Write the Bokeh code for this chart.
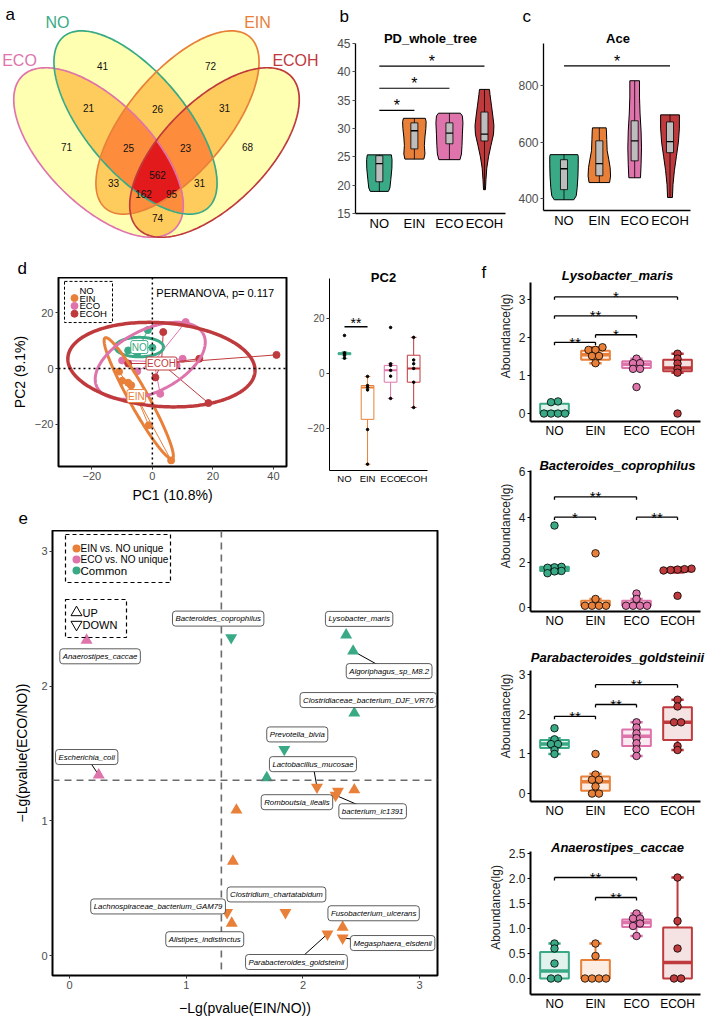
import numpy as np
from bokeh.plotting import figure
from bokeh.models import Range1d, Label, FixedTicker, Span, PrintfTickFormatter
from bokeh.layouts import row, column
from bokeh.embed import file_html
from bokeh.resources import INLINE
from bokeh.core.properties import value

FONT = "Liberation Sans"
GROUPS = ["NO", "EIN", "ECO", "ECOH"]
COL = {"NO": "#3AAA86", "EIN": "#E8803A", "ECO": "#DE74AB", "ECOH": "#BF3A3C"}

# ======================= DATA =======================
# (a) Venn: region membership (ECO, NO, EIN, ECOH) and counts
venn_sets = ["ECO", "NO", "EIN", "ECOH"]
venn_members = ["0100", "0010", "1000", "0001", "1100", "0110", "0011",
                "1110", "0111", "1111", "1010", "1011", "1101", "0101", "1001"]
venn_counts = [41, 72, 71, 68, 21, 26, 31, 25, 23, 562, 33, 162, 95, 31, 74]

# (b) PD_whole_tree violins: value levels, relative density, box stats (lo, q1, med, q3, hi)
pd_dens_y = {
    "NO": [18.9, 19.5, 21.0, 23.0, 24.5, 25.35],
    "EIN": [24.6, 25.5, 27.0, 28.5, 30.0, 31.2, 31.8],
    "ECO": [24.5, 25.5, 27.0, 29.0, 31.0, 32.2, 32.7],
    "ECOH": [19.2, 21.0, 23.0, 25.0, 27.0, 29.0, 30.5, 32.0, 34.0, 36.0, 36.9],
}
pd_dens_w = {
    "NO": [0.67, 0.78, 0.85, 0.93, 0.94, 0.89],
    "EIN": [0.70, 0.78, 0.74, 0.78, 0.85, 0.87, 0.81],
    "ECO": [0.78, 0.89, 0.93, 0.96, 1.00, 0.96, 0.81],
    "ECOH": [0.07, 0.11, 0.17, 0.30, 0.48, 0.67, 0.70, 0.63, 0.52, 0.41, 0.37],
}
pd_box = {"NO": (18.9, 20.6, 23.8, 25.2, 25.35), "EIN": (24.6, 26.4, 29.6, 31.0, 31.8),
          "ECO": (24.5, 27.3, 29.2, 31.0, 32.7), "ECOH": (19.2, 27.8, 29.0, 32.9, 36.9)}
pd_sig = [("NO", "EIN", 33.2, "*"), ("NO", "ECO", 37.1, "*"), ("NO", "ECOH", 41.0, "*")]
pd_lim = (15, 45)

# (c) Ace
ace_dens_y = {
    "NO": [396, 410, 440, 480, 520, 550, 556],
    "EIN": [457, 480, 510, 540, 570, 610, 640, 651],
    "ECO": [474, 520, 580, 640, 700, 760, 818],
    "ECOH": [404, 450, 500, 550, 600, 650, 697],
}
ace_dens_w = {
    "NO": [0.69, 0.86, 0.93, 0.98, 1.0, 1.0, 0.97],
    "EIN": [0.72, 0.79, 0.76, 0.66, 0.55, 0.52, 0.50, 0.48],
    "ECO": [0.41, 0.45, 0.48, 0.45, 0.38, 0.34, 0.34],
    "ECOH": [0.17, 0.21, 0.31, 0.45, 0.59, 0.66, 0.66],
}
ace_box = {"NO": (396, 432, 506, 538, 556), "EIN": (457, 481, 524, 605, 651),
           "ECO": (474, 534, 605, 676, 818), "ECOH": (404, 563, 602, 672, 697)}
ace_sig = [("NO", "ECOH", 871, "*")]
ace_lim = (358, 950)

# (d) PCoA
pc_group = ["NO"] * 6 + ["EIN"] * 6 + ["ECO"] * 6 + ["ECOH"] * 6
pc1 = [-1.5, 0.0, -3.0, -6.0, -8.0, -5.0,
       -11.0, -10.0, -8.0, -7.0, -1.2, 6.2,
       11.0, 10.0, -10.0, 8.0, -5.0, 2.6,
       3.6, 41.0, 15.5, -8.0, 1.0, 18.5]
pc2 = [13.8, 7.5, 7.2, 7.0, 6.5, 5.5,
       -1.1, -4.4, -5.1, -6.0, -20.4, -33.0,
       16.7, 3.5, 2.9, 1.1, -1.0, -9.1,
       13.1, 4.9, 3.5, 1.8, -3.2, -12.4]
pc_cent_x = {"NO": -4.3, "EIN": -5.3, "ECO": 0.5, "ECOH": 3.0}
pc_cent_y = {"NO": 7.7, "EIN": -9.9, "ECO": 2.5, "ECOH": 1.8}
pc_ell = {"NO": (-4.3, 7.7, 8.0, 3.5, 0.0), "EIN": (-4.5, -10.7, 24.4, 3.2, -63.0),
          "ECO": (-0.7, 2.8, 20.0, 11.0, 30.0), "ECOH": (3.0, 1.4, 31.0, 15.0, -5.0)}
permanova_p = 0.117
pc2_box = {"NO": (5.5, 6.8, 7.2, 7.5, 7.8), "EIN": (-33.0, -16.7, -5.1, -4.4, -1.1),
           "ECO": (-9.1, -3.2, 1.1, 2.9, 3.5), "ECOH": (-12.4, -3.2, 1.8, 6.6, 13.1)}
pc2_sig = [("NO", "EIN", 17.0, "**")]
pc2_lim = (-35.3, 34.5)

# (e) -Lg(p) comparison
e_x = [0.146, 1.385, 2.37, 2.43, 2.44, 1.84, 1.69, 0.25, 2.12, 2.30, 2.28, 2.44,
       1.43, 1.40, 1.35, 1.39, 1.85, 2.34, 2.34, 2.21]
e_y = [2.34, 2.36, 2.38, 2.26, 1.80, 1.53, 1.32, 1.34, 1.25, 1.22, 1.19, 1.23,
       1.08, 0.70, 0.32, 0.24, 0.32, 0.21, 0.13, 0.16]
e_cls = ["ECO", "Common", "Common", "Common", "Common", "Common", "Common", "ECO",
         "EIN", "EIN", "EIN", "EIN", "EIN", "EIN", "EIN", "EIN", "EIN", "EIN", "EIN", "EIN"]
e_dir = ["up", "down", "up", "up", "up", "down", "up", "up", "down", "down", "down", "up",
         "up", "up", "down", "up", "down", "up", "down", "down"]
e_name = ["Anaerostipes_caccae", "Bacteroides_coprophilus", "Lysobacter_maris",
          "Algoriphagus_sp_M8.2", "Clostridiaceae_bacterium_DJF_VR76", "Prevotella_bivia", "",
          "Escherichia_coli", "Lactobacillus_mucosae", "Romboutsia_ilealis", "bacterium_ic1391",
          "", "", "", "Lachnospiraceae_bacterium_GAM79", "Alistipes_indistinctus",
          "Clostridium_chartatabidum", "Fusobacterium_ulcerans", "Megasphaera_elsdenii",
          "Parabacteroides_goldsteinii"]
e_cut = 1.301

# (f) abundance plots
f_species = ["Lysobacter_maris", "Bacteroides_coprophilus", "Parabacteroides_goldsteinii",
             "Anaerostipes_caccae"]
f_pts = {
    "Lysobacter_maris": {"NO": [0.32, 0.30, 0.0, 0.0, 0.0, 0.0],
                         "EIN": [1.75, 1.68, 1.68, 1.52, 1.52, 1.33],
                         "ECO": [1.45, 1.33, 1.33, 1.18, 1.18, 0.70],
                         "ECOH": [1.58, 1.45, 1.32, 1.18, 1.08, 0.0]},
    "Bacteroides_coprophilus": {"NO": [3.63, 1.80, 1.78, 1.76, 1.62, 1.60, 1.52],
                                "EIN": [2.40, 0.38, 0.08, 0.08, 0.08, 0.08],
                                "ECO": [0.62, 0.38, 0.08, 0.08, 0.08, 0.08],
                                "ECOH": [1.72, 1.70, 1.68, 1.66, 1.64, 0.52]},
    "Parabacteroides_goldsteinii": {"NO": [1.65, 1.37, 1.25, 1.25, 1.10, 1.00],
                                    "EIN": [1.00, 0.48, 0.35, 0.35, 0.18, 0.0, 0.0],
                                    "ECO": [1.80, 1.67, 1.52, 1.40, 1.27, 1.12, 0.95],
                                    "ECOH": [2.37, 2.20, 1.80, 1.80, 1.20, 1.10]},
    "Anaerostipes_caccae": {"NO": [0.70, 0.60, 0.30, 0.0, 0.0],
                            "EIN": [0.70, 0.45, 0.0, 0.0, 0.0, 0.0],
                            "ECO": [1.30, 1.20, 1.20, 1.10, 1.05, 0.85],
                            "ECOH": [2.02, 1.15, 0.60, 0.0, 0.0]},
}
f_box = {
    "Lysobacter_maris": {"NO": (0.0, 0.0, 0.05, 0.26, 0.32), "EIN": (1.33, 1.42, 1.55, 1.66, 1.75),
                         "ECO": (1.18, 1.20, 1.30, 1.38, 1.45), "ECOH": (1.08, 1.12, 1.20, 1.42, 1.58)},
    "Bacteroides_coprophilus": {"NO": (1.52, 1.62, 1.72, 1.80, 1.85), "EIN": (0.05, 0.08, 0.10, 0.30, 0.38),
                                "ECO": (0.05, 0.08, 0.15, 0.30, 0.38), "ECOH": (1.55, 1.60, 1.66, 1.72, 1.76)},
    "Parabacteroides_goldsteinii": {"NO": (1.0, 1.15, 1.25, 1.35, 1.40), "EIN": (0.0, 0.07, 0.30, 0.43, 0.50),
                                    "ECO": (0.95, 1.20, 1.45, 1.62, 1.80), "ECOH": (1.10, 1.35, 1.80, 2.18, 2.37)},
    "Anaerostipes_caccae": {"NO": (0.0, 0.0, 0.15, 0.53, 0.70), "EIN": (0.0, 0.0, 0.0, 0.37, 0.70),
                            "ECO": (0.85, 1.03, 1.12, 1.18, 1.30), "ECOH": (0.0, 0.0, 0.32, 1.02, 2.02)},
}
f_sig = {
    "Lysobacter_maris": [("NO", "EIN", 1.88, "**"), ("EIN", "ECO", 2.08, "*"),
                         ("NO", "ECO", 2.58, "**"), ("NO", "ECOH", 3.08, "*")],
    "Bacteroides_coprophilus": [("NO", "EIN", 4.0, "*"), ("NO", "ECO", 4.9, "**"),
                                ("ECO", "ECOH", 4.0, "**")],
    "Parabacteroides_goldsteinii": [("NO", "EIN", 1.95, "**"), ("EIN", "ECO", 2.25, "**"),
                                    ("EIN", "ECOH", 2.75, "**")],
    "Anaerostipes_caccae": [("NO", "ECO", 2.02, "**"), ("EIN", "ECO", 1.62, "**")],
}
f_yticks = {"Lysobacter_maris": [0, 1, 2, 3], "Bacteroides_coprophilus": [0, 2, 4, 6],
            "Parabacteroides_goldsteinii": [0, 1, 2, 3],
            "Anaerostipes_caccae": [0.0, 0.5, 1.0, 1.5, 2.0, 2.5]}
f_yrange = {"Lysobacter_maris": (-0.21, 3.47), "Bacteroides_coprophilus": (-0.175, 6.08),
            "Parabacteroides_goldsteinii": (-0.2, 3.12), "Anaerostipes_caccae": (-0.32, 2.54)}

# ======================= LAYOUT / STYLE =======================
venn_geom = {"ECO": (98, 98, 108, 52, -45), "NO": (135, 128, 112, 50, -50),
             "EIN": (177, 128, 112, 50, 50), "ECOH": (214, 98, 108, 52, 45)}
venn_lab_pos = [(102, 65), (210, 65), (66, 146), (247, 146), (88, 107), (157, 108), (224, 107),
                (128, 147), (185, 147), (157, 174), (113, 182), (143, 193), (171, 193),
                (199, 182), (157, 217)]
venn_set_pos = {"NO": (57, 22), "EIN": (257, 22), "ECO": (19, 60), "ECOH": (295, 60)}
YLORRD = {1: (255, 255, 178, 255), 2: (254, 204, 92, 255), 3: (253, 141, 60, 255),
          4: (227, 26, 28, 255)}


def mkfig(w, h, xr, yr, bl, br, bt, bb, axes=True):
    kw = dict(width=w, height=h, x_range=Range1d(*xr), y_range=Range1d(*yr),
              output_backend="svg", toolbar_location=None, title=None,
              min_border_left=bl, min_border_right=br, min_border_top=bt, min_border_bottom=bb)
    if not axes:
        kw.update(x_axis_type=None, y_axis_type=None)
    p = figure(**kw)
    p.frame_align = False
    p.grid.visible = False
    p.outline_line_color = None
    p.background_fill_color = "white"
    p.border_fill_color = "white"
    return p


def header(w, h, x0, y0, items):
    """Axis-less strip whose frame is its whole canvas; data coords = page px."""
    p = mkfig(w, h, (x0, x0 + w), (y0 + h, y0), 0, 0, 0, 0, axes=False)
    for (x, y, txt, size, style, align) in items:
        p.text(x=[x], y=[y], text=[txt], text_font=value(FONT), text_font_size=size,
               text_font_style=style, text_align=align, text_baseline="alphabetic",
               text_color="black")
    return p


def axstyle(p, xsize, ysize, xcolor="black", ycolor="#4D4D4D", lw=1.3, tick="black"):
    for ax in p.axis:
        ax.axis_line_color = "black"
        ax.axis_line_width = lw
        ax.major_tick_line_color = tick
        ax.major_tick_in = 0
        ax.major_tick_out = 3
        ax.minor_tick_line_color = None
        ax.major_label_text_font = FONT
        ax.axis_label_text_font = FONT
        ax.axis_label_text_font_style = "normal"
        ax.axis_label_text_color = "black"
        ax.major_label_standoff = 2
    p.xaxis.major_label_text_font_size = xsize
    p.yaxis.major_label_text_font_size = ysize
    p.xaxis.major_label_text_color = xcolor
    p.yaxis.major_label_text_color = ycolor


def cat_ticks(p):
    p.xaxis.ticker = FixedTicker(ticks=[1, 2, 3, 4])
    p.xaxis.major_label_overrides = {i + 1: g for i, g in enumerate(GROUPS)}
    p.xaxis.major_tick_line_color = None
    p.xaxis.major_tick_out = 0


def sig(p, x1, x2, y, txt, ppy, gap_px, tick_px=0, fs="16px", lw=1.2):
    p.segment(x0=[x1], y0=[y], x1=[x2], y1=[y], line_color="black", line_width=lw)
    if tick_px:
        d = tick_px / ppy
        p.segment(x0=[x1, x2], y0=[y, y], x1=[x1, x2], y1=[y - d, y - d],
                  line_color="black", line_width=lw)
    p.text(x=[(x1 + x2) / 2], y=[y + gap_px / ppy], text=[txt], text_align="center",
           text_baseline="alphabetic", text_font=value(FONT), text_font_size=fs, text_color="black")


def ellipse_pts(cx, cy, a, b, th):
    t = np.linspace(0, 2 * np.pi, 241)
    r = np.deg2rad(th)
    ex = cx + a * np.cos(t) * np.cos(r) - b * np.sin(t) * np.sin(r)
    ey = cy + a * np.cos(t) * np.sin(r) + b * np.sin(t) * np.cos(r)
    return ex, ey


def panel_fig(w, canvas_top, canvas_h, frame_left, frame_right, frame_top, frame_bottom,
              page_left, xr, lim, ext_right=None):
    """Figure whose frame starts at the canvas top so that an in-frame title fits above
    the axis limits; axes are bounded to `xr` / `lim`."""
    ppy = (frame_bottom - frame_top) / (lim[1] - lim[0])
    ppx = (frame_right - frame_left) / (xr[1] - xr[0])
    top_val = lim[1] + (frame_top - canvas_top) / ppy
    fr = frame_right if ext_right is None else ext_right
    x_end = xr[0] + (fr - frame_left) / ppx
    bl = frame_left - page_left
    br = page_left + w - fr
    bb = canvas_top + canvas_h - frame_bottom
    p = mkfig(w, canvas_h, (xr[0], x_end), (lim[0], top_val), bl, br, 0, bb)
    to_x = lambda px: xr[0] + (px - frame_left) / ppx
    to_y = lambda py: lim[1] + (frame_top - py) / ppy
    return p, ppx, ppy, to_x, to_y


def in_title(p, x, y, txt, size="13px", style="bold"):
    p.text(x=[x], y=[y], text=[txt], text_align="center", text_baseline="alphabetic",
           text_font=value(FONT), text_font_size=size, text_font_style=style, text_color="black")


GX = {g: i + 1 for i, g in enumerate(GROUPS)}

# ----------------- (a) Venn -----------------
VW, VH = 330, 250
pa = mkfig(VW, VH, (0, VW), (0, VH), 0, 0, 0, 0, axes=False)
nx, ny = 660, 500
gx = (np.arange(nx) + 0.5) * VW / nx
gy = (np.arange(ny) + 0.5) * VH / ny
MX, MY = np.meshgrid(gx, gy)
depth = np.zeros(MX.shape, dtype=int)
for s in venn_sets:
    cx, cy, a, b, th = venn_geom[s]
    r = np.deg2rad(th)
    dx, dy = MX - cx, MY - cy
    u = dx * np.cos(r) + dy * np.sin(r)
    v = -dx * np.sin(r) + dy * np.cos(r)
    depth += ((u / a) ** 2 + (v / b) ** 2 <= 1.0).astype(int)
img = np.zeros((ny, nx), dtype=np.uint32)
view = img.view(dtype=np.uint8).reshape((ny, nx, 4))
for k, c in YLORRD.items():
    view[depth == k] = c
pa.image_rgba(image=[img], x=0, y=0, dw=VW, dh=VH)
for s in venn_sets:
    ex, ey = ellipse_pts(*venn_geom[s])
    pa.line(ex, ey, line_color=COL[s], line_width=1.7)
pa.text(x=[q[0] for q in venn_lab_pos], y=[VH - q[1] for q in venn_lab_pos],
        text=[str(c) for c in venn_counts], text_align="center", text_baseline="middle",
        text_font=value(FONT), text_font_size="10px", text_color="#111111")
for s in venn_sets:
    sx, sy = venn_set_pos[s]
    pa.text(x=[sx], y=[VH - sy], text=[s], text_align="center", text_baseline="middle",
            text_font=value(FONT), text_font_size="16px", text_color=COL[s])
pa.text(x=[5], y=[VH - 14], text=["a"], text_baseline="alphabetic", text_font=value(FONT),
        text_font_size="17px", text_color="black")


# ----------------- (b), (c) violins -----------------
def violin_panel(p, dens_y, dens_w, box, maxw, bw):
    for g in GROUPS:
        xc = GX[g]
        ys = list(dens_y[g])
        hw = [w * maxw / 2 for w in dens_w[g]]
        p.patch([xc - h for h in hw] + [xc + h for h in hw[::-1]], ys + ys[::-1],
                fill_color=COL[g], line_color="black", line_width=1)
        lo, q1, med, q3, hi = box[g]
        p.segment(x0=[xc], y0=[lo], x1=[xc], y1=[hi], line_color="black", line_width=0.8)
        p.quad(left=[xc - bw / 2], right=[xc + bw / 2], bottom=[q1], top=[q3],
               fill_color="#BDBDBD", line_color="black", line_width=0.8)
        p.segment(x0=[xc - bw / 2], y0=[med], x1=[xc + bw / 2], y1=[med],
                  line_color="black", line_width=1.3)


HB = 30
hb = header(185, HB, 330, 0, [(339, 16, "b", "17px", "normal", "left")])
pb, bppx, bppy, bx, by = panel_fig(185, HB, 250 - HB, 355, 505, 43, 213, 330, (0.32, 4.6), pd_lim)
axstyle(pb, "13px", "12px", tick="#4D4D4D")
cat_ticks(pb)
pb.yaxis.ticker = FixedTicker(ticks=[15, 20, 25, 30, 35, 40, 45])
pb.yaxis.bounds = pd_lim
violin_panel(pb, pd_dens_y, pd_dens_w, pd_box, 27 / 35, 0.2)
for g1, g2, y, s in pd_sig:
    sig(pb, GX[g1], GX[g2], y, s, bppy, 5)
in_title(pb, bx(430), by(38), "PD_whole_tree")

hc = header(199, HB, 515, 0, [(522, 16, "c", "17px", "normal", "left")])
pc, cppx, cppy, cxf, cyf = panel_fig(199, HB, 250 - HB, 540, 690, 43, 210, 515, (0.42, 4.58), ace_lim)
axstyle(pc, "13px", "12px", tick="#4D4D4D")
cat_ticks(pc)
pc.yaxis.ticker = FixedTicker(ticks=[400, 600, 800])
pc.yaxis.bounds = ace_lim
violin_panel(pc, ace_dens_y, ace_dens_w, ace_box, 29 / 36, 0.2)
for g1, g2, y, s in ace_sig:
    sig(pc, GX[g1], GX[g2], y, s, cppy, 4.5)
in_title(pc, cxf(616), cyf(38), "Ace")

# ----------------- (d) PCoA -----------------
hd = header(295, 27, 0, 250, [(17, 268, "d", "17px", "normal", "left")])
DXR, DYR = (-31, 44.3), (-35.2, 32.7)
DFW, DFH = 228, 193
pdd = mkfig(295, 228, DXR, DYR, 58, 9, 0, 35)
axstyle(pdd, "11px", "11px", xcolor="#4D4D4D", tick="#333333")
for ax in pdd.axis:
    ax.axis_line_color = None
pdd.outline_line_color = "black"
pdd.outline_line_width = 2
pdd.xaxis.ticker = FixedTicker(ticks=[-20, 0, 20, 40])
pdd.yaxis.ticker = FixedTicker(ticks=[-20, 0, 20])
pdd.xaxis.major_label_overrides = {-20: "\u221220"}
pdd.yaxis.major_label_overrides = {-20: "\u221220"}
pdd.xaxis.axis_label = "PC1 (10.8%)"
pdd.yaxis.axis_label = "PC2 (9.1%)"
pdd.xaxis.axis_label_text_font_size = "14px"
pdd.yaxis.axis_label_text_font_size = "14px"
pdd.xaxis.axis_label_standoff = 4
pdd.yaxis.axis_label_standoff = 4
pdd.add_layout(Span(location=0, dimension="height", line_dash="2 3", line_color="black", line_width=1.5))
pdd.add_layout(Span(location=0, dimension="width", line_dash="2 3", line_color="black", line_width=1.5))
for g in GROUPS:
    xs = [pc1[i] for i in range(len(pc1)) if pc_group[i] == g]
    ys = [pc2[i] for i in range(len(pc2)) if pc_group[i] == g]
    cx, cy = pc_cent_x[g], pc_cent_y[g]
    pdd.segment(x0=[cx] * len(xs), y0=[cy] * len(xs), x1=xs, y1=ys, line_color=COL[g], line_width=1)
    pdd.scatter(xs, ys, size=7, fill_color=COL[g], line_color=COL[g])
for g in ["NO", "EIN", "ECO", "ECOH"]:
    ex, ey = ellipse_pts(*pc_ell[g])
    pdd.line(ex, ey, line_color=COL[g], line_width=3.5 if g == "ECOH" else 3)
for g in ["NO", "ECOH", "EIN"]:
    pdd.add_layout(Label(x=pc_cent_x[g], y=pc_cent_y[g], text=g, text_font=FONT,
                         text_font_size="10px", text_color=COL[g], text_align="center",
                         text_baseline="middle", background_fill_color="white",
                         border_line_color=COL[g], border_line_width=1, padding=1, border_radius=2))
pdd.add_layout(Label(x=1.3, y=27.1, text="PERMANOVA, p= %s" % permanova_p, text_font=FONT,
                     text_font_size="11px", text_baseline="middle", text_color="black"))
d_ppx = DFW / (DXR[1] - DXR[0])
d_ppy = DFH / (DYR[1] - DYR[0])
dfx = lambda rx: DXR[0] + rx / d_ppx
dfy = lambda ry: DYR[1] - ry / d_ppy
pdd.quad(left=[dfx(6)], right=[dfx(54)], top=[dfy(4)], bottom=[dfy(46)], fill_color=None,
         line_color="black", line_dash="3 2", line_width=1)
for k, g in enumerate(GROUPS):
    ry = 13 + 8 * k
    if g != "NO":
        pdd.scatter([dfx(16)], [dfy(ry)], size=7, fill_color=COL[g], line_color=COL[g])
    pdd.text(x=[dfx(21)], y=[dfy(ry)], text=[g], text_baseline="middle", text_font=value(FONT),
             text_font_size="9.5px", text_color="black")

# ----------------- PC2 boxplot -----------------
pq, qppx, qppy, qx, qy = panel_fig(185, 250, 255, 329, 427, 278, 470, 295, (0.35, 4.6), pc2_lim)
axstyle(pq, "9.5px", "10px", tick="#333333", lw=1.0)
cat_ticks(pq)
pq.yaxis.ticker = FixedTicker(ticks=[-20, 0, 20])
pq.yaxis.major_label_overrides = {-20: "\u221220"}
pq.yaxis.bounds = pc2_lim
for g in GROUPS:
    xc = GX[g]
    lo, q1, med, q3, hi = pc2_box[g]
    bw, cw = 0.55, 0.25
    pq.segment(x0=[xc, xc], y0=[lo, q3], x1=[xc, xc], y1=[q1, hi], line_color=COL[g], line_width=1)
    pq.segment(x0=[xc - cw / 2] * 2, y0=[lo, hi], x1=[xc + cw / 2] * 2, y1=[lo, hi],
               line_color=COL[g], line_width=1)
    pq.quad(left=[xc - bw / 2], right=[xc + bw / 2], bottom=[q1], top=[q3], fill_color="white",
            line_color=COL[g], line_width=1)
    pq.segment(x0=[xc - bw / 2], y0=[med], x1=[xc + bw / 2], y1=[med], line_color=COL[g], line_width=2)
    ys = [pc2[i] for i in range(len(pc2)) if pc_group[i] == g]
    pq.scatter([xc] * len(ys), ys, size=2.5, color="black")
for g1, g2, y, s in pc2_sig:
    sig(pq, GX[g1], GX[g2], y, s, qppy, 4, fs="14px", lw=1.5)
in_title(pq, qx(383), qy(277), "PC2")

# ----------------- (e) -----------------
he = header(480, 25, 0, 505, [(18, 517, "e", "17px", "normal", "left")])
EXR, EYR = (-0.146, 3.153), (-0.148, 3.155)
EFW, EFH = 385, 445
pe = mkfig(480, 488, EXR, EYR, 52, 43, 0, 43)
axstyle(pe, "11px", "11px", xcolor="#4D4D4D", tick="#333333")
for ax in pe.axis:
    ax.axis_line_color = None
pe.outline_line_color = "black"
pe.outline_line_width = 2
pe.xaxis.ticker = FixedTicker(ticks=[0, 1, 2, 3])
pe.yaxis.ticker = FixedTicker(ticks=[0, 1, 2, 3])
pe.xaxis.axis_label = "\u2212Lg(pvalue(EIN/NO))"
pe.yaxis.axis_label = "\u2212Lg(pvalue(ECO/NO))"
pe.xaxis.axis_label_text_font_size = "14px"
pe.yaxis.axis_label_text_font_size = "14px"
pe.xaxis.axis_label_standoff = 8
pe.yaxis.axis_label_standoff = 8
pe.add_layout(Span(location=e_cut, dimension="height", line_dash="7 5", line_color="#6B6B6B", line_width=1.6))
pe.add_layout(Span(location=e_cut, dimension="width", line_dash="7 5", line_color="#6B6B6B", line_width=1.6))
ECOL = {"EIN": COL["EIN"], "ECO": COL["ECO"], "Common": COL["NO"]}
e_ppx = EFW / (EXR[1] - EXR[0])
e_ppy = EFH / (EYR[1] - EYR[0])
e_lab_off = {0: (13.5, 16, False), 1: (-13, -19, False), 2: (13, -16, False), 3: (36, 20, True),
             4: (14, -13, False), 5: (13, -15, False), 7: (-12, -18, True), 8: (-4, -23, True),
             9: (-41, 11, False), 10: (37, 16, True), 14: (-69, -6, False), 15: (-27, 16, False),
             16: (-9, -18, False), 17: (31, -14, False), 18: (50, 5, True), 19: (-31, 28, True)}
labels_e = []
for i in range(len(e_x)):
    if e_name[i] and i in e_lab_off:
        dx, dy, seg = e_lab_off[i]
        lx = e_x[i] + dx / e_ppx
        ly = e_y[i] - dy / e_ppy
        if seg:
            pe.segment(x0=[e_x[i]], y0=[e_y[i]], x1=[lx], y1=[ly], line_color="black", line_width=1)
        labels_e.append((lx, ly, e_name[i]))
for i in range(len(e_x)):
    pe.scatter([e_x[i]], [e_y[i]], marker="triangle" if e_dir[i] == "up" else "inverted_triangle",
               size=12, fill_color=ECOL[e_cls[i]], line_color=None)
for lx, ly, nm in labels_e:
    pe.add_layout(Label(x=lx, y=ly, text=nm, text_font=FONT, text_font_size="7.8px",
                        text_font_style="italic", text_align="center", text_baseline="middle",
                        text_color="black", background_fill_color="white",
                        border_line_color="#333333", border_line_width=0.8, padding=3, border_radius=3))
efx = lambda rx: EXR[0] + rx / e_ppx
efy = lambda ry: EYR[1] - ry / e_ppy
pe.quad(left=[efx(13), efx(13)], right=[efx(118), efx(74)], top=[efy(4), efy(69)],
        bottom=[efy(52), efy(107)], fill_color=None, line_color="black", line_dash="4 3", line_width=1.2)
for k, (cls, lab) in enumerate([("EIN", "EIN vs. NO unique"), ("ECO", "ECO vs. NO unique"),
                                 ("Common", "Common")]):
    ry = 18 + 11 * k
    pe.scatter([efx(24)], [efy(ry)], size=8, fill_color=ECOL[cls], line_color=None)
    pe.text(x=[efx(28)], y=[efy(ry)], text=[lab], text_baseline="middle", text_font=value(FONT),
            text_font_size="10px" if cls != "Common" else "11.5px", text_color="black")
for k, (mk, lab) in enumerate([("triangle", "UP"), ("inverted_triangle", "DOWN")]):
    ry = 82 + 12 * k
    pe.scatter([efx(24)], [efy(ry)], marker=mk, size=11, fill_color=None, line_color="black", line_width=1)
    pe.text(x=[efx(30)], y=[efy(ry)], text=[lab], text_baseline="middle", text_font=value(FONT),
            text_font_size="11px", text_color="black")

# ----------------- (f) -----------------
F_XR = (0.415, 4.56)
# (canvas top, canvas height, frame top, frame bottom, title baseline)
f_geom = [(250, 190, 282, 423, 275), (440, 190, 470, 613, 465),
          (630, 190, 670, 803, 657), (820, 198, 851, 994, 847)]


def dot_offsets(vals, binw, step):
    vals = np.asarray(vals, dtype=float)
    order = np.argsort(vals, kind="stable")
    offs = np.zeros(len(vals))
    groups, cur, start = [], [order[0]], vals[order[0]]
    for k in order[1:]:
        if vals[k] - start < binw:
            cur.append(k)
        else:
            groups.append(cur)
            cur, start = [k], vals[k]
    groups.append(cur)
    for gr in groups:
        n = len(gr)
        for j, idx in enumerate(gr):
            offs[idx] = (j - (n - 1) / 2) * step
    return offs


fcol = []
for si, sp in enumerate(f_species):
    ct, ch, ft, fb, tb = f_geom[si]
    page_left = 490 if si == 0 else 480
    w = 714 - page_left
    lim = f_yrange[sp]
    p, ppx, ppy, tx, ty = panel_fig(w, ct, ch, 530, 700, ft, fb, page_left, F_XR, lim, ext_right=714)
    axstyle(p, "12px", "12px", ycolor="#222222", lw=2)
    cat_ticks(p)
    p.yaxis.ticker = FixedTicker(ticks=f_yticks[sp])
    p.yaxis.bounds = lim
    p.xaxis.bounds = F_XR
    if sp == "Anaerostipes_caccae":
        p.yaxis.formatter = PrintfTickFormatter(format="%.1f")
    p.yaxis.axis_label = "Aboundance(lg)"
    p.yaxis.axis_label_text_font_size = "12px"
    p.yaxis.axis_label_text_color = "#222222"
    p.yaxis.axis_label_standoff = 3
    for g in GROUPS:
        xc = GX[g]
        col = COL[g]
        lo, q1, med, q3, hi = f_box[sp][g]
        bw, cw = 0.7, 0.3
        p.segment(x0=[xc, xc], y0=[lo, q3], x1=[xc, xc], y1=[q1, hi], line_color=col, line_width=2)
        p.segment(x0=[xc - cw / 2] * 2, y0=[lo, hi], x1=[xc + cw / 2] * 2, y1=[lo, hi],
                  line_color=col, line_width=2.5)
        p.quad(left=[xc - bw / 2], right=[xc + bw / 2], bottom=[q1], top=[q3], fill_color=col,
               fill_alpha=0.15, line_color=col, line_width=2)
        p.segment(x0=[xc - bw / 2], y0=[med], x1=[xc + bw / 2], y1=[med], line_color=col, line_width=3.5)
        vals = f_pts[sp][g]
        offs = dot_offsets(vals, 3.5 / ppy, 7.0 / ppx)
        p.scatter([xc + o for o in offs], vals, size=7.5, fill_color=col, line_color="black", line_width=0.8)
    for g1, g2, y, s in f_sig[sp]:
        sig(p, GX[g1], GX[g2], y, s, ppy, 0, tick_px=3, fs="15px", lw=1.3)
    in_title(p, tx(617), ty(tb), sp, style="bold italic")
    if si == 0:
        tf = header(10, ch, 480, ct, [(481, 272, "f", "17px", "normal", "left")])
        fcol.append(row(tf, p))
    else:
        fcol.append(p)

top_row = row(pa, column(hb, pb), column(hc, pc))
left_col = column(row(column(hd, pdd), pq), he, pe)
right_col = column(*fcol)
lay = column(top_row, row(left_col, right_col))
open("out.html", "w").write(file_html(lay, INLINE))
